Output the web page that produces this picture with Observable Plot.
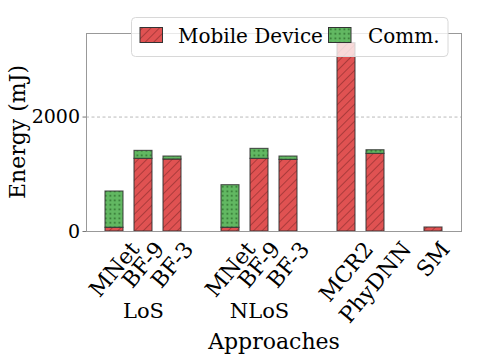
<!DOCTYPE html>
<html>
<head>
<meta charset="utf-8">
<script src="https://cdn.jsdelivr.net/npm/d3@7"></script>
<script src="https://cdn.jsdelivr.net/npm/@observablehq/plot@0.6"></script>
<style>
  html, body { margin: 0; padding: 0; background: #fff; }
  svg { font-family: "DejaVu Serif", serif; }
</style>
</head>
<body>
<div id="chart"></div>
<script>
// ---- data ----
const approaches = ["MNet", "BF-9", "BF-3", "MNet", "BF-9", "BF-3", "MCR2", "PhyDNN", "SM"];
const groups = ["LoS", "LoS", "LoS", "NLoS", "NLoS", "NLoS", "", "", ""];
const deviceEnergy = [65, 1270, 1258, 65, 1270, 1252, 3290, 1357, 70];
const commEnergy = [634, 139, 52, 744, 174, 58, 0, 63, 0];
const seriesNames = ["Mobile Device", "Comm."];
const yTicks = [0, 2000];
const groupNames = ["LoS", "NLoS"];

// ---- layout helpers ----
const keys = approaches.map((a, i) => groups[i] ? groups[i] + " " + a : a);
const xDomain = [...keys.slice(0, 3), "gap1", ...keys.slice(3, 6), "gap2", keys[6], keys[7], "gap3", keys[8]];

const deviceRows = keys.map((k, i) => ({key: k, y1: 0, y2: deviceEnergy[i]}));
const commRows = keys.map((k, i) => ({key: k, y1: deviceEnergy[i], y2: deviceEnergy[i] + commEnergy[i]}))
  .filter(d => d.y2 > d.y1);

const RED = "#e05252", GREEN = "#62b862";
const tickFont = 22, rot = 50;
const canvas = document.createElement("canvas");
const ctx = canvas.getContext("2d");
ctx.font = `${tickFont}px "DejaVu Serif"`;
const rad = rot * Math.PI / 180;
const labelMarks = approaches.map((a, i) => {
  const w = ctx.measureText(a).width;
  const h = tickFont * 0.95;
  const H = w * Math.sin(rad) + h * Math.cos(rad);
  return Plot.text([a], {
    x: () => keys[i], frameAnchor: "bottom", text: d => d,
    rotate: -rot, textAnchor: "middle", lineAnchor: "middle",
    dy: 7 + H / 2, fontSize: tickFont, fill: "black"
  });
});
const groupMarks = groupNames.map(g => {
  const idx = groups.indexOf(g) + 1;
  return Plot.text([g], {
    x: () => keys[idx], frameAnchor: "bottom", text: d => d,
    lineAnchor: "bottom", dy: 86, fontSize: 21, fill: "black"
  });
});

const chart = Plot.plot({
  width: 483,
  height: 363,
  marginLeft: 86,
  marginRight: 22,
  marginTop: 33,
  marginBottom: 132,
  style: {fontFamily: "DejaVu Serif", background: "white"},
  x: {domain: xDomain, paddingInner: 0.38, paddingOuter: 0.59, axis: null},
  y: {domain: [0, 3460], axis: null},
  marks: [
    Plot.gridY(yTicks.filter(t => t > 0), {stroke: "#bbb", strokeOpacity: 1, strokeDasharray: "3,2.5"}),
    Plot.barY(deviceRows, {x: "key", y1: "y1", y2: "y2", fill: "url(#hatchRed)", stroke: "#333", strokeWidth: 1.1, strokeOpacity: 0.85, inset: 0}),
    Plot.barY(commRows, {x: "key", y1: "y1", y2: "y2", fill: "url(#dotGreen)", stroke: "#333", strokeWidth: 1.1, strokeOpacity: 0.85, inset: 0}),
    Plot.frame({stroke: "#999", strokeWidth: 1}),
    Plot.axisY({ticks: yTicks, tickSize: 3.5, tickPadding: 3, fontSize: 19, stroke: "#777", fill: "black", label: null, tickFormat: d => String(d)}),
    ...labelMarks,
    ...groupMarks,
    Plot.text(["Approaches"], {frameAnchor: "bottom", text: d => d, lineAnchor: "bottom", dy: 117, fontSize: 22, fill: "black"})
  ]
});

document.getElementById("chart").appendChild(chart);

const svg = d3.select(chart);

// ---- y axis title ----
const yr = chart.scale("y").range;
svg.append("text")
  .attr("transform", `translate(17.5,${(yr[0] + yr[1]) / 2}) rotate(-90)`)
  .attr("text-anchor", "middle").attr("dominant-baseline", "central")
  .attr("font-size", 22).attr("font-family", "DejaVu Serif").attr("fill", "black")
  .text("Energy (mJ)");

// ---- patterns ----
const defs = svg.insert("defs", ":first-child");
const pr = defs.append("pattern").attr("id", "hatchRed").attr("patternUnits", "userSpaceOnUse")
  .attr("width", 6).attr("height", 6).attr("patternTransform", "rotate(45)");
pr.append("rect").attr("width", 6).attr("height", 6).attr("fill", RED);
pr.append("line").attr("x1", 0.5).attr("y1", 0).attr("x2", 0.5).attr("y2", 6)
  .attr("stroke", "#8a2e2e").attr("stroke-width", 0.8).attr("stroke-opacity", 0.8);
const pg = defs.append("pattern").attr("id", "dotGreen").attr("patternUnits", "userSpaceOnUse")
  .attr("width", 4.5).attr("height", 4.5);
pg.append("rect").attr("width", 4.5).attr("height", 4.5).attr("fill", GREEN);
pg.append("rect").attr("x", 1.5).attr("y", 1.5).attr("width", 1.6).attr("height", 1.6).attr("fill", "#2b6a2b");

// ---- legend ----
const lg = svg.append("g");
lg.append("rect").attr("x", 131.5).attr("y", 17.5).attr("width", 316.5).attr("height", 39)
  .attr("rx", 4).attr("fill", "white").attr("fill-opacity", 0.78).attr("stroke", "#d8d8d8");
const items = [
  {name: seriesNames[0], fill: "url(#hatchRed)", px: 140, tx: 178},
  {name: seriesNames[1], fill: "url(#dotGreen)", px: 328.5, tx: 368}
];
items.forEach(it => {
  lg.append("rect").attr("x", it.px).attr("y", 27.5).attr("width", 22.5).attr("height", 15)
    .attr("fill", it.fill).attr("stroke", "#333").attr("stroke-width", 1);
  lg.append("text").attr("x", it.tx).attr("y", 42.5).attr("font-size", 20)
    .attr("text-anchor", "start")
    .attr("font-family", "DejaVu Serif").attr("fill", "black").text(it.name);
});
</script>
</body>
</html>
